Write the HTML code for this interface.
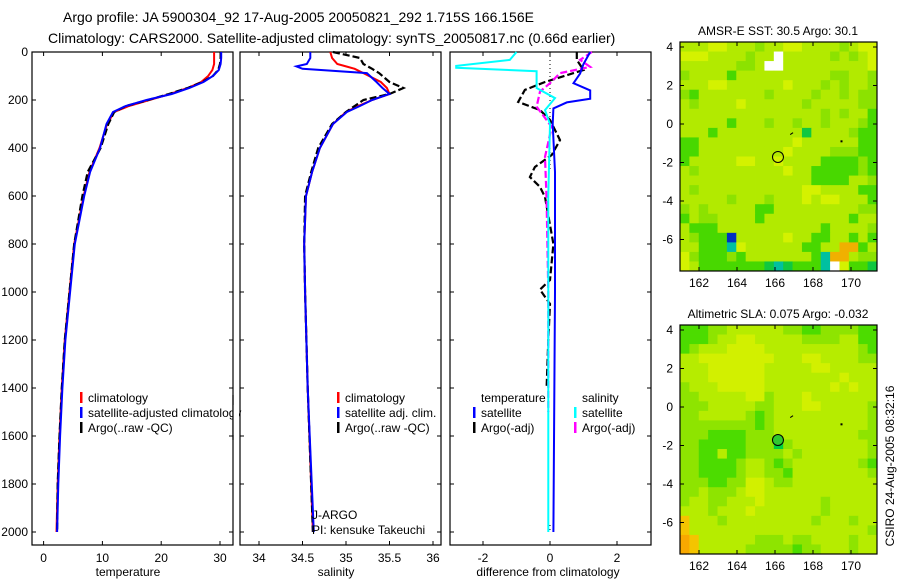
<!DOCTYPE html>
<html><head><meta charset="utf-8"><style>
html,body{margin:0;padding:0;background:#fff;}
svg{display:block;font-family:"Liberation Sans",sans-serif;}
text{font-size:12px;fill:#000;}
</style></head><body>
<svg id="fig" width="900" height="580" viewBox="0 0 900 580">
<text x="63" y="22" style="font-size:14px">Argo profile: JA 5900304_92 17-Aug-2005 20050821_292 1.715S 166.156E</text>
<text x="48" y="43" style="font-size:14px">Climatology: CARS2000. Satellite-adjusted climatology: synTS_20050817.nc (0.66d earlier)</text>
<g id="plots"></g>
</svg>
<script>
// ---- profile data ----
const depths = [0,25,50,75,100,125,150,175,200,225,250,300,400,500,600,800,1000,1200,1400,1600,1800,2000];
const tempClim = [29.0,29.0,29.0,28.7,28.0,26.8,24.5,21.5,18.0,14.5,12.0,10.8,9.5,7.8,6.8,5.2,4.4,3.6,3.1,2.7,2.4,2.2];
const tempSat  = [30.2,30.2,30.1,29.8,28.8,27.2,24.8,21.8,17.5,14.0,11.8,10.7,9.6,7.9,6.9,5.3,4.5,3.7,3.2,2.8,2.5,2.3];
const tempArgo = [30.1,30.1,30.0,29.7,28.8,27.0,24.5,21.3,17.8,14.0,12.0,11.0,9.7,7.5,6.6,5.2,4.4,3.6,3.1,2.7,2.4,2.3];
const salDepths = [0,25,50,60,70,88,125,150,175,200,225,250,300,400,500,600,800,1000,1400,2000];
const salClim = [34.82,34.84,34.9,35.0,35.1,35.2,35.4,35.47,35.5,35.3,35.14,35.0,34.85,34.7,34.61,34.54,34.52,34.53,34.56,34.62];
const salSat  = [34.59,34.59,34.55,34.43,34.5,35.24,35.35,35.42,35.5,35.3,35.16,35.01,34.85,34.7,34.61,34.54,34.52,34.53,34.56,34.63];
const salArgo = [34.85,35.16,35.2,35.25,35.3,35.38,35.5,35.66,35.5,35.2,35.1,35.0,34.84,34.68,34.6,34.53,34.52,34.53,34.56,34.62];
// difference panel
const dTempSatDepth = [0,50,90,130,160,195,210,235,300,500,1000,2000];
const dTempSat = [1.2,1.0,0.9,0.7,1.2,1.2,0.5,0.1,0.08,0.15,0.15,0.1];
const dSalSatDepth = [0,33,58,66,80,150,192,242,300,600,1000,2000];
const dSalSat = [-1.0,-1.2,-2.8,-2.8,-0.4,-0.4,0.15,-0.15,0.0,-0.05,-0.05,-0.05];
const dTempArgoDepth = [0,33,75,125,158,208,242,283,367,429,479,521,562,604,800,950,990,1050,1200,1400];
const dTempArgo = [0.8,0.8,1.0,-0.15,-0.75,-0.95,-0.3,0.0,0.3,0.05,-0.45,-0.6,-0.3,-0.15,0.1,0.0,-0.3,0.0,-0.05,-0.1];
const dSalArgoDepth = [0,33,62,88,130,165,228,312,437,617,1000,1500];
const dSalArgo = [1.25,0.9,1.2,0.3,0.0,-0.3,-0.4,0.05,-0.15,-0.1,-0.05,-0.05];
const depthTicks = [0,200,400,600,800,1000,1200,1400,1600,1800,2000];
const tempTicks = [0,10,20,30];
const salTicks = [34,34.5,35,35.5,36];
const diffTicks = [-2,0,2];
// ---- map data (rows: lat top->bottom, cols: lon west->east) ----
const sstGrid = [
"lllyylllgllyyllllglyy","yyyllllgllwlllllglgly","llllllgglwwllllllllly","gllllGllllllllllggllg",
"lllyyllllllylllglgllg","gGlllllllgllllgllglgg","lgllllyllllllglllllgg","lllllllllllllllglgllG",
"lllllGlllgllgllglllgG","lllGlllllllllDllllgGG","GGllllllllllyllllllGG","GGlllllllllyllllgggGG",
"GlllllyyllyllllGGGGgG","lglllllllllyllGGGGGgG","llllllllllllllGGGGllg","lglllllllllllyyllllGG",
"lllllglllglllylyylllG","glglllllGGlllllllllgg","GlggllllGlllllllllGll","lGGGlllllllllllGllllg",
"lgGGGBlllllyllGGllGlG","llGGGcyllllllGGllooGl","ygGGGgGlllllllGcoolgg","ylGGGGGGGDcDGGGcwyGGD"];
const slaGrid = [
"GGGggllllllggGGggggGG","GGGgllyylllllggggllGG","GglllyyyyllllllllllgG","llyyyyyyyylllyyllllgg",
"lllyyyyyylllllyylllll","lllyyyyyyllllllllylll","glllyyyyylllllllylyll","gglllllyyglllylllllll",
"ggglllllgglllyylllllg","gglllllgGgllllllllllg","ggggggggGgllllllllllg","gggGGGGggglllllllllgg",
"ggGGGGGgggDgllllllllg","ggGGlGGgggglglllllllg","ggGGGGgllgGglllllllgG","ggGGGGgllggGllllllllg",
"gggGGggyylgglllllllll","gglggglyyllllllllllll","gllgglllyllllllglllll","lllglllylllllllglllll",
"olllglllllllllglllgll","olllllllllllllllllllg","Oollllllggglggllllgll","OolllllgggggGgglllgll"];
const lonTicks = [162,164,166,168,170];
const latTicks = [4,2,0,-2,-4,-6];
const argoLon = 166.156, argoLat = -1.715;

const NS="http://www.w3.org/2000/svg";
const root=document.getElementById('plots');
function mk(tag,attrs,parent){const e=document.createElementNS(NS,tag);for(const k in attrs)e.setAttribute(k,attrs[k]);(parent||root).appendChild(e);return e;}
function txt(x,y,s,anchor,parent){const t=mk('text',{x:x,y:y,'text-anchor':anchor||'start'},parent);t.textContent=s;return t;}

const top0=52, pxPerM=480/2000, boxTop=52, boxBot=545;
const yD=d=>top0+d*pxPerM;
const panels=[
 {name:'temperature',l:32,r:233,x:v=>43.6+5.88*v,ticks:tempTicks,label:'temperature',lx:128},
 {name:'salinity',l:240,r:441,x:v=>259+87*(v-34),ticks:salTicks,label:'salinity',lx:336},
 {name:'difference',l:450,r:651,x:v=>550+33.5*v,ticks:diffTicks,label:'difference from climatology',lx:548}
];
function line(xs,ds,xf,color,w,dash,name){
  let d='';xs.forEach((v,i)=>{d+=(i?'L':'M')+xf(v).toFixed(1)+','+yD(ds[i]).toFixed(1);});
  const p=mk('path',{d:d,fill:'none',stroke:color,'stroke-width':w,'stroke-dasharray':dash||'none'});
  
  
}
panels.forEach((p,pi)=>{
  const g=mk('g',{});
  
  
  mk('rect',{x:p.l,y:boxTop,width:p.r-p.l,height:boxBot-boxTop,fill:'none',stroke:'#000','stroke-width':1.2},g);
  p.ticks.forEach(t=>{const x=p.x(t);
    mk('line',{x1:x,y1:boxBot,x2:x,y2:boxBot-4,stroke:'#000'},g);
    mk('line',{x1:x,y1:boxTop,x2:x,y2:boxTop+4,stroke:'#000'},g);
    const tl=txt(x,562,String(t),'middle',g);
    
    
  });
  depthTicks.forEach(d=>{const y=yD(d);
    mk('line',{x1:p.l,y1:y,x2:p.l+4,y2:y,stroke:'#000'},g);
    mk('line',{x1:p.r,y1:y,x2:p.r-4,y2:y,stroke:'#000'},g);
    if(pi==0){const tl=txt(28,y+4,String(d),'end',g);
      
      }
  });
  const al=txt(p.lx,576,p.label,'middle',g);
  
  
});
const P=panels;
line(tempClim,depths,P[0].x,'#f00',2,null,'temp-climatology-line');
line(tempArgo,depths,P[0].x,'#000',2.2,'7,3','temp-argo-line');
line(tempSat,depths,P[0].x,'#00f',2,null,'temp-satellite-line');
line(salClim,salDepths,P[1].x,'#f00',2,null,'sal-climatology-line');
line(salArgo,salDepths,P[1].x,'#000',2.2,'7,3','sal-argo-line');
line(salSat,salDepths,P[1].x,'#00f',2,null,'sal-satellite-line');
mk('line',{x1:550,y1:52,x2:550,y2:170,stroke:'#000','stroke-dasharray':'1,3'});
mk('line',{x1:550,y1:525,x2:550,y2:533,stroke:'#000','stroke-dasharray':'1,3'});
line(dTempArgo,dTempArgoDepth,P[2].x,'#000',2.2,'7,3','diff-temp-argo-line');
line(dSalArgo,dSalArgoDepth,P[2].x,'#f0f',2.2,'7,3','diff-sal-argo-line');
line(dTempSat,dTempSatDepth,P[2].x,'#00f',2,null,'diff-temp-satellite-line');
line(dSalSat,dSalSatDepth,P[2].x,'#0ff',2,null,'diff-sal-satellite-line');

function legend(x,y,color,label,name){
  const g=mk('g',{});
  
  
  if(color) mk('rect',{x:x,y:y-10,width:2.5,height:11,fill:color},g);
  txt(x+8,y,label,'start',g);
}
legend(80,402,'#f00','climatology','legend-climatology');
legend(80,417,'#00f','satellite-adjusted climatology','legend-satellite-adjusted');
legend(80,432,'#000','Argo(..raw -QC)','legend-argo');
mk('rect',{x:233,y:405,width:6,height:30,fill:'#fff'});
mk('line',{x1:233,y1:395,x2:233,y2:440,stroke:'#000','stroke-width':1.2});
legend(337,402,'#f00','climatology','legend-sal-climatology');
legend(337,417,'#00f','satellite adj. clim.','legend-sal-satellite');
legend(337,432,'#000','Argo(..raw -QC)','legend-sal-argo');
legend(473,402,null,'temperature','legend-temperature-header');
legend(473,417,'#00f','satellite','legend-diff-temp-satellite');
legend(473,432,'#000','Argo(-adj)','legend-diff-temp-argo');
legend(574,402,null,'salinity','legend-salinity-header');
legend(574,417,'#0ff','satellite','legend-diff-sal-satellite');
legend(574,432,'#f0f','Argo(-adj)','legend-diff-sal-argo');
const pi1=txt(312,519,'J-ARGO');
const pi2=txt(312,534,'PI: kensuke Takeuchi');

// ---- maps ----
const colA={y:'#d4f200',l:'#b2ea00',g:'#8ce200',G:'#48d800',D:'#10c840',w:'#ffffff',B:'#0030c0',c:'#00c0a0',o:'#f0b000'};
const colB={y:'#d2f000',l:'#b6ec00',g:'#8ee400',G:'#4cdc00',D:'#00d040',o:'#f4c400',O:'#f8a800'};
function map(top,grid,cols,title,name,filled){
  const L=680,R=877,B=top+229;
  const lonX=v=>699+(v-162)*19;
  const latY=v=>top+5+(4-v)*19.25;
  const g=mk('g',{});
  
  
  const cw=(R-L)/grid[0].length, ch=(B-top)/grid.length;
  grid.forEach((row,ri)=>{for(let ci=0;ci<row.length;ci++){
    mk('rect',{x:(L+ci*cw).toFixed(2),y:(top+ri*ch).toFixed(2),width:(cw+0.4).toFixed(2),height:(ch+0.4).toFixed(2),fill:cols[row[ci]]},g);
  }});
  mk('rect',{x:L,y:top,width:R-L,height:B-top,fill:'none',stroke:'#000','stroke-width':1.2},g);
  lonTicks.forEach(v=>{const x=lonX(v);mk('line',{x1:x,y1:B,x2:x,y2:B-4,stroke:'#000'},g);mk('line',{x1:x,y1:top,x2:x,y2:top+4,stroke:'#000'},g);
    const t=txt(x,B+16,String(v),'middle',g);});
  latTicks.forEach(v=>{const y=latY(v);mk('line',{x1:L,y1:y,x2:L+4,y2:y,stroke:'#000'},g);mk('line',{x1:R,y1:y,x2:R-4,y2:y,stroke:'#000'},g);
    const t=txt(673,y+4,String(v),'end',g);});
  const c=mk('circle',{cx:lonX(argoLon),cy:latY(argoLat),r:5.5,fill:filled||'none',stroke:'#000','stroke-width':1},g);
  
  
  mk('rect',{x:lonX(169.5)-1,y:latY(-0.9)-1,width:2,height:2,fill:'#000'},g);
  mk('line',{x1:lonX(166.8),y1:latY(-0.55),x2:lonX(166.95),y2:latY(-0.45),stroke:'#000'},g);
  const t=txt(778,top-7,title,'middle',g);
  
  
}
map(42,sstGrid,colA,'AMSR-E SST: 30.5  Argo: 30.1','sst-map');
map(325,slaGrid,colB,'Altimetric SLA: 0.075  Argo: -0.032','sla-map','#30c830');
const cs=txt(0,0,'CSIRO 24-Aug-2005 08:32:16','middle');
cs.setAttribute('transform','translate(894,466) rotate(-90)');


</script>
</body></html>
